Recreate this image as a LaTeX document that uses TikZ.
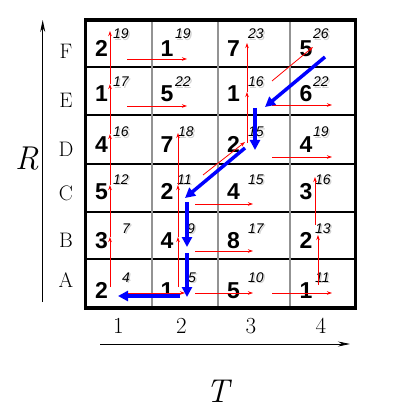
\documentclass[tikz,border=0pt]{standalone}
\usepackage{fontspec}
\newfontfamily\arial{Liberation Sans}
\usetikzlibrary{arrows.meta}
\tikzset{
 bignum/.style={font=\arial\bfseries\fontsize{23}{23}\selectfont, anchor=base west, inner sep=0pt},
 supnum/.style={font=\arial\itshape\fontsize{14}{14}\selectfont, anchor=base west, inner sep=0pt},
 supshadow/.style={supnum, text=black!18},
 redarrow/.style={draw=red, line width=0.8pt, -{Stealth[length=5pt,width=3.5pt]}},
 bluearrow/.style={draw=blue, line width=3.5pt, -{Triangle[length=10pt,width=10pt]}},
 axisarrow/.style={draw=black, line width=0.8pt, -{Stealth[length=12pt,width=5pt]}},
 rowlabel/.style={font=\fontsize{21}{21}\selectfont, anchor=base, inner sep=0pt},
 collabel/.style={font=\fontsize{23}{23}\selectfont, anchor=base, inner sep=0pt},
 axislabel/.style={font=\itshape\fontsize{33}{33}\selectfont, inner sep=0pt},
 hline/.style={draw=black, line width=1.3pt},
 vline/.style={draw=gray!85, line width=1.8pt},
 gridframe/.style={draw=black, line width=3.5pt},
}
\newcommand\cellnum[7]{%
  \node[bignum] (v#1) at (#2,#3) {#4};
  \node[supshadow] (h#1) at (#5+1.5,#6+1.5) {#7};
  \node[supnum] (s#1) at (#5,#6) {#7};
}
\begin{document}
\begin{tikzpicture}[x=1pt,y=-1pt]
\useasboundingbox[fill=white] (0,0) rectangle (406,414);
% grid
\foreach \y in {67,115,164,212,259} \draw[hline] (85,\y) -- (356,\y);
\foreach \x in {152,218,290} \draw[vline] (\x,20) -- (\x,307);
\draw[gridframe] (85.5,20) rectangle (355.5,308);
% row F
\cellnum{F1}{95}{57}{2}{113}{39}{19}
\cellnum{F2}{160.5}{57}{1}{175}{39}{19}
\cellnum{F3}{227}{57}{7}{248}{39}{23}
\cellnum{F4}{299.5}{57}{5}{313}{39}{26}
% row E
\cellnum{E1}{95}{102}{1}{113}{87}{17}
\cellnum{E2}{160.5}{102}{5}{175}{87}{22}
\cellnum{E3}{227}{102}{1}{248}{87}{16}
\cellnum{E4}{299.5}{102}{6}{313}{87}{22}
% row D
\cellnum{D1}{95}{152}{4}{113}{137}{16}
\cellnum{D2}{160.5}{152}{7}{178}{137}{18}
\cellnum{D3}{227}{152}{2}{248}{137}{15}
\cellnum{D4}{299.5}{152}{4}{313}{137}{19}
% row C
\cellnum{C1}{95}{199}{5}{113}{184}{12}
\cellnum{C2}{160.5}{199}{2}{177}{184}{11}
\cellnum{C3}{227}{199}{4}{248}{184}{15}
\cellnum{C4}{299.5}{199}{3}{315}{184}{16}
% row B
\cellnum{B1}{95}{248}{3}{122}{233}{7}
\cellnum{B2}{160.5}{248}{4}{187}{233}{9}
\cellnum{B3}{227}{248}{8}{248}{233}{17}
\cellnum{B4}{299.5}{248}{2}{315}{233}{13}
% row A
\cellnum{A1}{95}{298}{2}{122}{282}{4}
\cellnum{A2}{160.5}{298}{1}{188}{282}{5}
\cellnum{A3}{227}{298}{5}{248}{282}{10}
\cellnum{A4}{299.5}{298}{1}{315}{282}{11}
% red arrow points
\coordinate (c1a) at (110,287); \coordinate (c1b) at (110,237);
\coordinate (c1c) at (110,185); \coordinate (c1d) at (110,134);
\coordinate (c1e) at (110,84);  \coordinate (c1f) at (110,31);
\coordinate (c2a) at (178,287); \coordinate (c2b) at (178,237);
\coordinate (c2c) at (178,185); \coordinate (c2d) at (178,133);
\coordinate (c3a) at (247,143); \coordinate (c3b) at (247,92);
\coordinate (c3c) at (247,43);
\coordinate (c4a) at (318,285); \coordinate (c4b) at (318,235);
\coordinate (c4c) at (315,225); \coordinate (c4d) at (315,177);
\coordinate (hF1s) at (127,59);  \coordinate (hF1e) at (187,59);
\coordinate (hE1s) at (127,106); \coordinate (hE1e) at (187,106);
\coordinate (hA1s) at (125,293); \coordinate (hA1e) at (185,293);
\coordinate (hC2s) at (195,204); \coordinate (hC2e) at (253,204);
\coordinate (hB2s) at (195,251); \coordinate (hB2e) at (253,251);
\coordinate (hA2s) at (195,293); \coordinate (hA2e) at (253,293);
\coordinate (hE3s) at (272,105); \coordinate (hE3e) at (332,105);
\coordinate (hD3s) at (272,157); \coordinate (hD3e) at (332,157);
\coordinate (hA3s) at (272,293); \coordinate (hA3e) at (332,293);
\coordinate (d1s) at (203,175); \coordinate (d1e) at (245,142);
\coordinate (d2s) at (272,81);  \coordinate (d2e) at (313,47);
% red arrows
\draw[redarrow] (c1a) -- (c1b);
\draw[redarrow] (c1b) -- (c1c);
\draw[redarrow] (c1c) -- (c1d);
\draw[redarrow] (c1d) -- (c1e);
\draw[redarrow] (c1e) -- (c1f);
\draw[redarrow] (c2a) -- (c2b);
\draw[redarrow] (c2b) -- (c2c);
\draw[redarrow] (c2c) -- (c2d);
\draw[redarrow] (c3a) -- (c3b);
\draw[redarrow] (c3b) -- (c3c);
\draw[redarrow] (c4a) -- (c4b);
\draw[redarrow] (c4c) -- (c4d);
\draw[redarrow] (hF1s) -- (hF1e);
\draw[redarrow] (hE1s) -- (hE1e);
\draw[redarrow] (hA1s) -- (hA1e);
\draw[redarrow] (hC2s) -- (hC2e);
\draw[redarrow] (hB2s) -- (hB2e);
\draw[redarrow] (hA2s) -- (hA2e);
\draw[redarrow] (hE3s) -- (hE3e);
\draw[redarrow] (hD3s) -- (hD3e);
\draw[redarrow] (hA3s) -- (hA3e);
\draw[redarrow] (d1s) -- (d1e);
\draw[redarrow] (d2s) -- (d2e);
% blue backtrack
\coordinate (b1s) at (325,57);  \coordinate (b1e) at (265,107);
\coordinate (b2s) at (255,108); \coordinate (b2e) at (255,150);
\coordinate (b3s) at (245,148); \coordinate (b3e) at (185,198);
\coordinate (b4s) at (187,202); \coordinate (b4e) at (187,247);
\coordinate (b5s) at (187,253); \coordinate (b5e) at (187,297);
\coordinate (b6s) at (180,296); \coordinate (b6e) at (118,296);
\draw[bluearrow] (b1s) -- (b1e);
\draw[bluearrow] (b2s) -- (b2e);
\draw[bluearrow] (b3s) -- (b3e);
\draw[bluearrow] (b4s) -- (b4e);
\draw[bluearrow] (b5s) -- (b5e);
\draw[bluearrow] (b6s) -- (b6e);
% axes
\coordinate (ay0) at (42.7,302); \coordinate (ay1) at (42.7,20);
\coordinate (ax0) at (100,344);  \coordinate (ax1) at (350,344);
\draw[axisarrow] (ay0) -- (ay1);
\draw[axisarrow] (ax0) -- (ax1);
\node[axislabel] (labR) at (27,158.5) {R};
\node[axislabel] (labT) at (217.5,391.5) {T};
% row labels
\node[rowlabel] (rF) at (66,59) {F};
\node[rowlabel] (rE) at (66,108) {E};
\node[rowlabel] (rD) at (66,157) {D};
\node[rowlabel] (rC) at (66,200) {C};
\node[rowlabel] (rB) at (66,247) {B};
\node[rowlabel] (rA) at (66,287) {A};
% column labels
\node[collabel] (k1) at (118.5,333) {1};
\node[collabel] (k2) at (181.5,333) {2};
\node[collabel] (k3) at (251,333) {3};
\node[collabel] (k4) at (321,333) {4};
\end{tikzpicture}
\end{document}
